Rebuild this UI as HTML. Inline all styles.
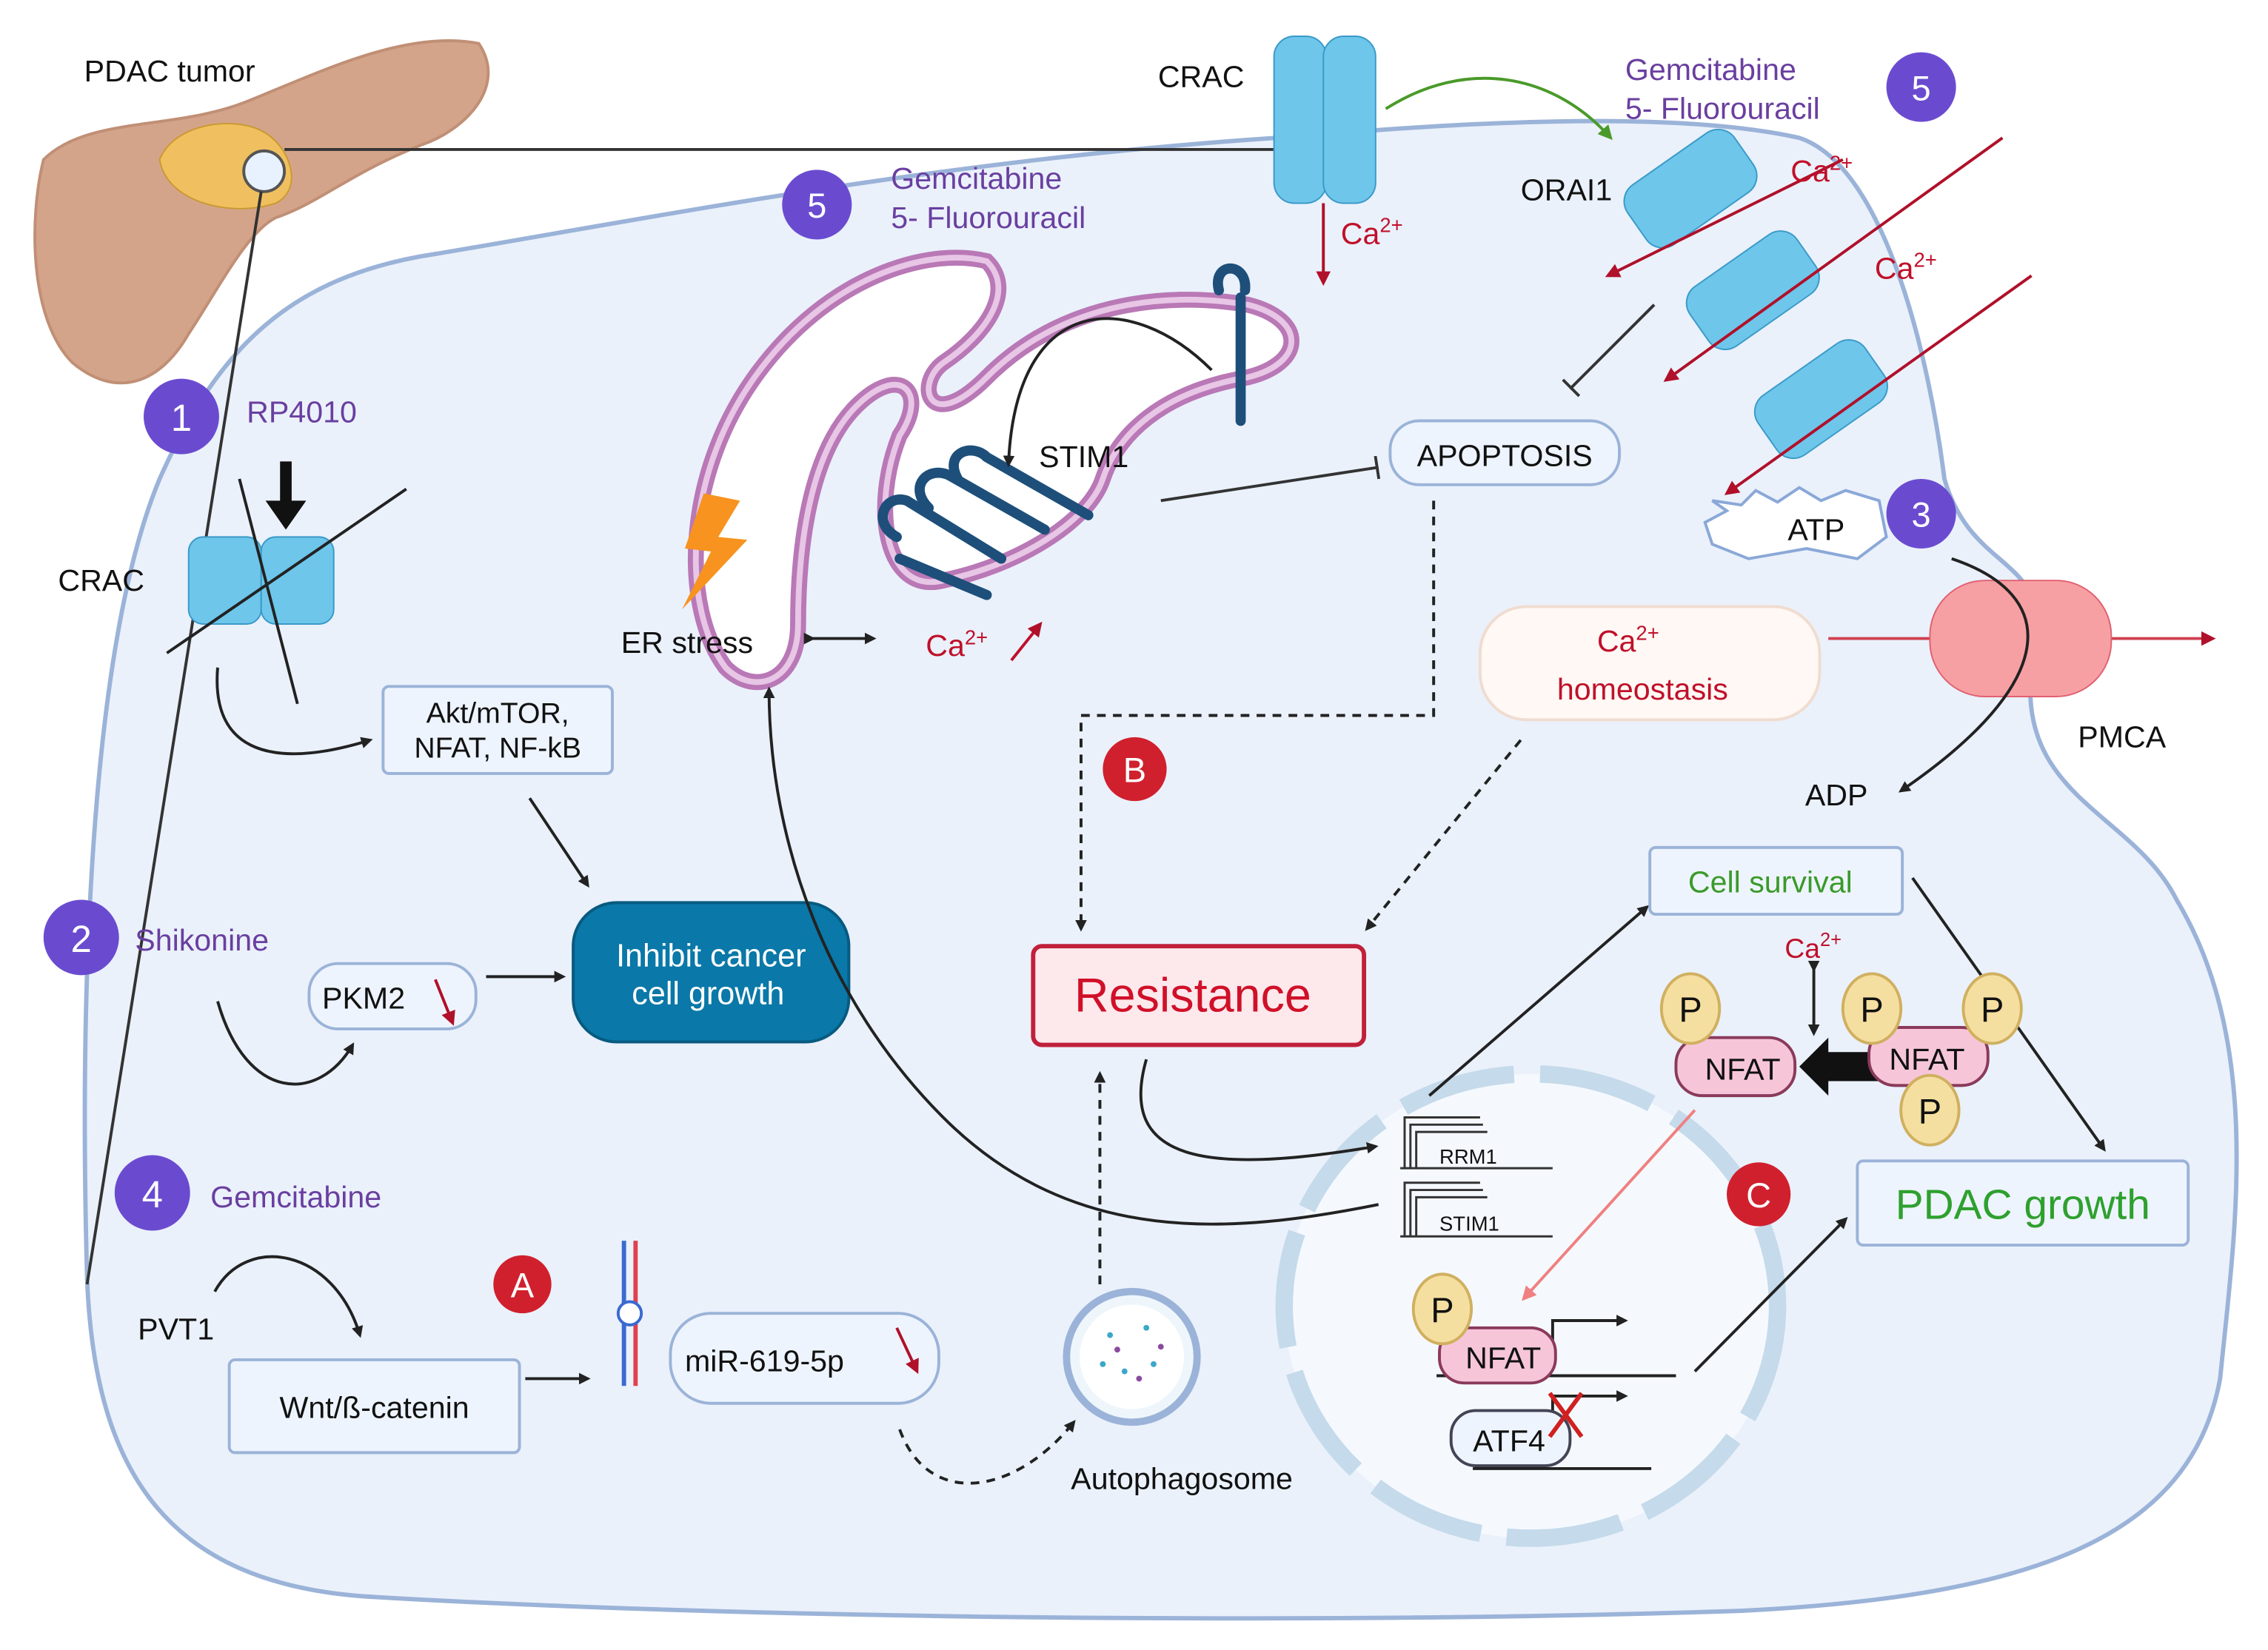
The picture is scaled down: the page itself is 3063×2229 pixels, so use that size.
<!DOCTYPE html>
<html><head><meta charset="utf-8"><style>
html,body{margin:0;padding:0;background:#fff}
svg{display:block}
text{font-family:"Liberation Sans",sans-serif}
</style></head><body>
<svg width="3063" height="2229" viewBox="0 0 1563 1137" preserveAspectRatio="none" xmlns="http://www.w3.org/2000/svg">
<defs>
<marker id="ab" markerWidth="8" markerHeight="8" refX="6" refY="4" orient="auto" markerUnits="userSpaceOnUse"><path d="M0,0 L8,4 L0,8 Z" fill="#222"/></marker>
<marker id="ar" markerWidth="10" markerHeight="10" refX="8" refY="5" orient="auto" markerUnits="userSpaceOnUse"><path d="M0,0 L10,5 L0,10 Z" fill="#b0102a"/></marker>
<marker id="ag" markerWidth="10" markerHeight="10" refX="8" refY="5" orient="auto" markerUnits="userSpaceOnUse"><path d="M0,0 L10,5 L0,10 Z" fill="#4a9a2a"/></marker>
<marker id="ap" markerWidth="10" markerHeight="10" refX="8" refY="5" orient="auto" markerUnits="userSpaceOnUse"><path d="M0,0 L10,5 L0,10 Z" fill="#f08080"/></marker>
<marker id="tb" markerWidth="4" markerHeight="16" refX="2" refY="8" orient="auto" markerUnits="userSpaceOnUse"><rect x="0" y="0" width="2" height="16" fill="#333"/></marker>
</defs>
<rect width="1563" height="1137" fill="#fff"/>
<!-- cell -->
<path d="M60,880 C55,700 60,450 110,330 C150,240 200,190 300,175 C450,150 650,110 880,95 C1000,85 1150,75 1240,95 C1300,115 1330,250 1340,330 C1360,400 1420,380 1400,460 C1390,550 1470,560 1500,620 C1560,720 1540,850 1530,950 C1510,1060 1400,1100 1200,1110 C900,1120 500,1115 250,1100 C120,1090 65,1020 60,880 Z" fill="#eaf1fb" stroke="#9bb3d8" stroke-width="3"/>
<!-- pancreas -->
<path d="M30,110 C60,80 120,90 170,70 C220,50 280,20 330,30 C350,60 320,90 290,100 C240,120 220,140 190,150 C170,160 150,200 130,230 C110,265 80,275 50,250 C20,220 20,150 30,110 Z" fill="#d4a48a" stroke="#c08f75" stroke-width="2"/>
<path d="M110,110 C120,85 160,80 180,90 C200,100 210,130 190,140 C160,150 115,140 110,110 Z" fill="#f0c060" stroke="#c99a30"/>
<circle cx="182" cy="118" r="14" fill="#e8f2ff" stroke="#555" stroke-width="2"/>
<line x1="196" y1="103" x2="880" y2="103" stroke="#333" stroke-width="2"/>
<line x1="180" y1="132" x2="60" y2="885" stroke="#333" stroke-width="2"/>
<text x="58" y="56" font-size="21" fill="#111">PDAC tumor</text>
<!-- ER -->
<path d="M500,460 C470,420 470,330 520,260 C570,190 640,170 680,180 C700,200 680,230 650,250 C630,265 640,300 680,260 C730,210 800,200 860,210 C900,220 900,250 860,260 C800,270 770,300 760,330 C750,360 700,390 650,400 C610,410 600,350 620,300 C640,270 620,250 590,280 C560,310 550,370 550,430 C550,470 520,480 500,460 Z" fill="#fff" stroke="#b978b6" stroke-width="11"/>
<path d="M500,460 C470,420 470,330 520,260 C570,190 640,170 680,180 C700,200 680,230 650,250 C630,265 640,300 680,260 C730,210 800,200 860,210 C900,220 900,250 860,260 C800,270 770,300 760,330 C750,360 700,390 650,400 C610,410 600,350 620,300 C640,270 620,250 590,280 C560,310 550,370 550,430 C550,470 520,480 500,460 Z" fill="none" stroke="#e8c6e6" stroke-width="4"/>
<!-- STIM1 shapes -->
<g stroke="#1d4f7a" stroke-width="7" fill="none" stroke-linecap="round">
<path d="M840,200 C835,180 860,180 858,200"/><line x1="855" y1="205" x2="855" y2="290"/>
<path d="M618,370 C600,360 610,340 625,345 L690,385"/>
<path d="M640,350 C625,335 640,320 655,328 L720,365"/>
<path d="M660,330 C650,312 670,305 680,315 L750,355"/>
<path d="M620,385 L680,410"/>
</g>
<path d="M835,255 C780,200 700,200 695,320" fill="none" stroke="#222" stroke-width="2" marker-end="url(#ab)"/>
<text x="716" y="322" font-size="21" fill="#111">STIM1</text>
<polygon points="485,340 510,345 495,370 515,372 470,420 490,380 472,378" fill="#f7931e"/>
<text x="428" y="450" font-size="21" fill="#111">ER stress</text>
<line x1="560" y1="440" x2="602" y2="440" stroke="#222" stroke-width="2" marker-end="url(#ab)" marker-start="url(#ab)"/>
<text x="638" y="452" font-size="21" fill="#c0102a">Ca<tspan font-size="14" dy="-8">2+</tspan></text>
<line x1="697" y1="455" x2="717" y2="430" stroke="#c0102a" stroke-width="2" marker-end="url(#ar)"/>
<line x1="800" y1="345" x2="950" y2="322" stroke="#333" stroke-width="2" marker-end="url(#tb)"/>
<!-- CRAC top -->
<rect x="878" y="25" width="36" height="115" rx="14" fill="#6ec6ea" stroke="#3a9ac8"/>
<rect x="912" y="25" width="36" height="115" rx="14" fill="#6ec6ea" stroke="#3a9ac8"/>
<text x="798" y="60" font-size="21" fill="#111">CRAC</text>
<line x1="912" y1="140" x2="912" y2="195" stroke="#b0102a" stroke-width="2" marker-end="url(#ar)"/>
<text x="924" y="168" font-size="21" fill="#c0102a">Ca<tspan font-size="14" dy="-8">2+</tspan></text>
<path d="M955,75 C1010,40 1070,50 1110,95" fill="none" stroke="#4a9a2a" stroke-width="2" marker-end="url(#ag)"/>
<text x="614" y="130" font-size="21" fill="#6a3fa0">Gemcitabine</text>
<text x="614" y="157" font-size="21" fill="#6a3fa0">5- Fluorouracil</text>
<circle cx="563" cy="141" r="24" fill="#6a4bd0"/><text x="563" y="150" font-size="24" fill="#fff" text-anchor="middle">5</text>
<text x="1120" y="55" font-size="21" fill="#6a3fa0">Gemcitabine</text>
<text x="1120" y="82" font-size="21" fill="#6a3fa0">5- Fluorouracil</text>
<circle cx="1324" cy="60" r="24" fill="#6a4bd0"/><text x="1324" y="69" font-size="24" fill="#fff" text-anchor="middle">5</text>
<!-- ORAI1 -->
<g fill="#6ec6ea" stroke="#3a9ac8">
<rect x="1120" y="105" width="90" height="50" rx="14" transform="rotate(-35 1165 130)"/>
<rect x="1163" y="175" width="90" height="50" rx="14" transform="rotate(-35 1208 200)"/>
<rect x="1210" y="250" width="90" height="50" rx="14" transform="rotate(-35 1255 275)"/>
</g>
<text x="1048" y="138" font-size="21" fill="#111">ORAI1</text>
<g stroke="#b0102a" stroke-width="2">
<line x1="1270" y1="110" x2="1108" y2="190" marker-end="url(#ar)"/>
<line x1="1380" y1="95" x2="1148" y2="262" marker-end="url(#ar)"/>
<line x1="1400" y1="190" x2="1190" y2="340" marker-end="url(#ar)"/>
</g>
<text x="1234" y="125" font-size="21" fill="#c0102a">Ca<tspan font-size="14" dy="-8">2+</tspan></text>
<text x="1292" y="192" font-size="21" fill="#c0102a">Ca<tspan font-size="14" dy="-8">2+</tspan></text>
<line x1="1140" y1="210" x2="1082" y2="268" stroke="#333" stroke-width="2" marker-end="url(#tb)"/>
<rect x="958" y="290" width="158" height="44" rx="20" fill="#eef4fd" stroke="#9bb3d8" stroke-width="2"/>
<text x="1037" y="321" font-size="21" fill="#111" text-anchor="middle">APOPTOSIS</text>
<polygon points="1175,360 1190,352 1180,345 1200,348 1210,338 1225,346 1240,336 1255,345 1272,338 1295,345 1300,370 1280,385 1245,378 1205,385 1180,375" fill="#fff" stroke="#8aa8d8" stroke-width="2"/>
<text x="1232" y="372" font-size="21" fill="#111">ATP</text>
<circle cx="1324" cy="354" r="24" fill="#6a4bd0"/><text x="1324" y="363" font-size="24" fill="#fff" text-anchor="middle">3</text>
<!-- PMCA -->
<line x1="1260" y1="440" x2="1525" y2="440" stroke="#d04050" stroke-width="2" marker-end="url(#ar)"/>
<rect x="1330" y="400" width="125" height="80" rx="38" fill="#f7a0a4" stroke="#e06070"/>
<path d="M1345,385 C1420,410 1420,470 1310,545" fill="none" stroke="#222" stroke-width="2" marker-end="url(#ab)"/>
<text x="1432" y="515" font-size="21" fill="#111">PMCA</text>
<text x="1244" y="555" font-size="21" fill="#111">ADP</text>
<rect x="1020" y="418" width="234" height="78" rx="32" fill="#fff8f4" stroke="#f0dcd0" stroke-width="2"/>
<text x="1122" y="449" font-size="21" fill="#c0102a" text-anchor="middle">Ca<tspan font-size="14" dy="-8">2+</tspan></text>
<text x="1132" y="482" font-size="21" fill="#c0102a" text-anchor="middle">homeostasis</text>
<!-- left drugs -->
<circle cx="125" cy="287" r="26" fill="#6a4bd0"/><text x="125" y="297" font-size="26" fill="#fff" text-anchor="middle">1</text>
<text x="170" y="291" font-size="21" fill="#6a3fa0">RP4010</text>
<line x1="197" y1="318" x2="197" y2="352" stroke="#111" stroke-width="8"/><polygon points="183,345 211,345 197,365" fill="#111"/>
<rect x="130" y="370" width="50" height="60" rx="10" fill="#6ec6ea" stroke="#3a9ac8"/>
<rect x="180" y="370" width="50" height="60" rx="10" fill="#6ec6ea" stroke="#3a9ac8"/>
<line x1="115" y1="450" x2="280" y2="337" stroke="#222" stroke-width="2"/>
<line x1="165" y1="330" x2="205" y2="485" stroke="#222" stroke-width="2"/>
<text x="40" y="407" font-size="21" fill="#111">CRAC</text>
<path d="M150,460 C145,520 190,530 255,510" fill="none" stroke="#222" stroke-width="2" marker-end="url(#ab)"/>
<rect x="264" y="473" width="158" height="60" rx="4" fill="#eef4fd" stroke="#9bb3d8" stroke-width="2"/>
<text x="343" y="498" font-size="20" fill="#111" text-anchor="middle">Akt/mTOR,</text>
<text x="343" y="522" font-size="20" fill="#111" text-anchor="middle">NFAT, NF-kB</text>
<line x1="365" y1="550" x2="405" y2="610" stroke="#222" stroke-width="2" marker-end="url(#ab)"/>
<rect x="395" y="622" width="190" height="96" rx="30" fill="#0a78a8" stroke="#085a80" stroke-width="2"/>
<text x="490" y="666" font-size="22" fill="#fff" text-anchor="middle">Inhibit cancer</text>
<text x="488" y="692" font-size="22" fill="#fff" text-anchor="middle">cell growth</text>
<circle cx="56" cy="646" r="26" fill="#6a4bd0"/><text x="56" y="656" font-size="26" fill="#fff" text-anchor="middle">2</text>
<text x="93" y="655" font-size="21" fill="#6a3fa0">Shikonine</text>
<rect x="213" y="664" width="115" height="45" rx="20" fill="#eef4fd" stroke="#9bb3d8" stroke-width="2"/>
<text x="222" y="695" font-size="21" fill="#111">PKM2</text>
<line x1="300" y1="675" x2="312" y2="705" stroke="#b0102a" stroke-width="2" marker-end="url(#ar)"/>
<line x1="335" y1="673" x2="388" y2="673" stroke="#222" stroke-width="2" marker-end="url(#ab)"/>
<path d="M150,690 C170,760 220,760 243,720" fill="none" stroke="#222" stroke-width="2" marker-end="url(#ab)"/>
<circle cx="105" cy="822" r="26" fill="#6a4bd0"/><text x="105" y="832" font-size="26" fill="#fff" text-anchor="middle">4</text>
<text x="145" y="832" font-size="21" fill="#6a3fa0">Gemcitabine</text>
<text x="95" y="923" font-size="21" fill="#111">PVT1</text>
<path d="M148,890 C170,850 230,860 248,920" fill="none" stroke="#222" stroke-width="2" marker-end="url(#ab)"/>
<rect x="158" y="937" width="200" height="64" rx="4" fill="#eef4fd" stroke="#9bb3d8" stroke-width="2"/>
<text x="258" y="977" font-size="21" fill="#111" text-anchor="middle">Wnt/ß-catenin</text>
<line x1="362" y1="950" x2="405" y2="950" stroke="#222" stroke-width="2" marker-end="url(#ab)"/>
<circle cx="360" cy="885" r="20" fill="#d0202e"/><text x="360" y="894" font-size="24" fill="#fff" text-anchor="middle">A</text>
<line x1="430" y1="855" x2="430" y2="955" stroke="#3a6ad0" stroke-width="3"/>
<line x1="438" y1="855" x2="438" y2="955" stroke="#e04050" stroke-width="3"/>
<circle cx="434" cy="905" r="8" fill="#fff" stroke="#3a6ad0" stroke-width="2"/>
<rect x="462" y="905" width="185" height="62" rx="28" fill="#eef4fd" stroke="#9bb3d8" stroke-width="2"/>
<text x="472" y="945" font-size="21" fill="#111">miR-619-5p</text>
<line x1="618" y1="915" x2="632" y2="945" stroke="#b0102a" stroke-width="2" marker-end="url(#ar)"/>
<path d="M620,985 C640,1040 700,1030 740,980" fill="none" stroke="#222" stroke-width="2" stroke-dasharray="6,5" marker-end="url(#ab)"/>
<circle cx="780" cy="935" r="45" fill="#eef6fc" stroke="#9bb3d8" stroke-width="5"/>
<circle cx="780" cy="935" r="36" fill="#fff"/>
<g fill="#3aa8c8"><circle cx="765" cy="920" r="2"/><circle cx="790" cy="915" r="2"/><circle cx="775" cy="945" r="2"/><circle cx="795" cy="940" r="2"/><circle cx="760" cy="940" r="2"/></g>
<g fill="#8a4aa0"><circle cx="770" cy="930" r="2"/><circle cx="785" cy="950" r="2"/><circle cx="800" cy="928" r="2"/></g>
<text x="738" y="1026" font-size="21" fill="#111">Autophagosome</text>
<line x1="758" y1="885" x2="758" y2="740" stroke="#222" stroke-width="2" stroke-dasharray="6,5" marker-end="url(#ab)"/>
<!-- resistance -->
<path d="M988,345 L988,493 L745,493 L745,640" fill="none" stroke="#222" stroke-width="2" stroke-dasharray="6,5" marker-end="url(#ab)"/>
<line x1="1048" y1="510" x2="942" y2="640" stroke="#222" stroke-width="2" stroke-dasharray="6,5" marker-end="url(#ab)"/>
<circle cx="782" cy="530" r="22" fill="#d0202e"/><text x="782" y="539" font-size="24" fill="#fff" text-anchor="middle">B</text>
<rect x="712" y="652" width="228" height="68" rx="6" fill="#fde8ec" stroke="#c0203a" stroke-width="3"/>
<text x="822" y="697" font-size="33" fill="#d01028" text-anchor="middle">Resistance</text>
<!-- nucleus -->
<ellipse cx="1055" cy="900" rx="170" ry="160" fill="#f5f9fe" stroke="#c5daea" stroke-width="12" stroke-dasharray="80,18"/>
<path d="M790,730 C770,800 830,810 948,790" fill="none" stroke="#222" stroke-width="2" marker-end="url(#ab)"/>
<path d="M950,830 C850,850 740,860 650,770 C570,690 530,580 530,475" fill="none" stroke="#222" stroke-width="2" marker-end="url(#ab)"/>
<g stroke="#333" stroke-width="1.5" fill="none">
<line x1="965" y1="805" x2="1070" y2="805"/><path d="M968,805 V770 H1020 M972,805 V775 H1022 M976,805 V780 H1025"/>
<line x1="965" y1="852" x2="1070" y2="852"/><path d="M968,852 V815 H1020 M972,852 V820 H1022 M976,852 V825 H1025"/>
</g>
<text x="992" y="802" font-size="14" fill="#111">RRM1</text>
<text x="992" y="848" font-size="14" fill="#111">STIM1</text>
<line x1="985" y1="755" x2="1135" y2="625" stroke="#222" stroke-width="2" marker-end="url(#ab)"/>
<rect x="1137" y="584" width="174" height="46" rx="4" fill="#eef4fd" stroke="#9bb3d8" stroke-width="2"/>
<text x="1220" y="615" font-size="21" fill="#3a9a2a" text-anchor="middle">Cell survival</text>
<line x1="1318" y1="605" x2="1450" y2="792" stroke="#222" stroke-width="2" marker-end="url(#ab)"/>
<rect x="1280" y="800" width="228" height="58" rx="4" fill="#eef4fd" stroke="#9bb3d8" stroke-width="2"/>
<text x="1394" y="840" font-size="29" fill="#2ea02e" text-anchor="middle">PDAC growth</text>
<text x="1230" y="660" font-size="19" fill="#c0102a">Ca<tspan font-size="13" dy="-8">2+</tspan></text>
<line x1="1250" y1="668" x2="1250" y2="712" stroke="#222" stroke-width="2" marker-end="url(#ab)" marker-start="url(#ab)"/>
<rect x="1155" y="715" width="82" height="40" rx="18" fill="#f6c6d8" stroke="#8a3a5a" stroke-width="2"/>
<text x="1201" y="744" font-size="21" fill="#111" text-anchor="middle">NFAT</text>
<ellipse cx="1165" cy="695" rx="20" ry="24" fill="#f5dfa0" stroke="#d0b060" stroke-width="2"/><text x="1165" y="704" font-size="24" fill="#111" text-anchor="middle">P</text>
<polygon points="1295,725 1260,725 1260,715 1240,735 1260,755 1260,745 1295,745" fill="#111"/>
<rect x="1288" y="708" width="82" height="40" rx="18" fill="#f6c6d8" stroke="#8a3a5a" stroke-width="2"/>
<text x="1328" y="737" font-size="21" fill="#111" text-anchor="middle">NFAT</text>
<ellipse cx="1290" cy="695" rx="20" ry="24" fill="#f5dfa0" stroke="#d0b060" stroke-width="2"/><text x="1290" y="704" font-size="24" fill="#111" text-anchor="middle">P</text>
<ellipse cx="1373" cy="695" rx="20" ry="24" fill="#f5dfa0" stroke="#d0b060" stroke-width="2"/><text x="1373" y="704" font-size="24" fill="#111" text-anchor="middle">P</text>
<ellipse cx="1330" cy="765" rx="20" ry="24" fill="#f5dfa0" stroke="#d0b060" stroke-width="2"/><text x="1330" y="774" font-size="24" fill="#111" text-anchor="middle">P</text>
<circle cx="1212" cy="823" r="22" fill="#d0202e"/><text x="1212" y="832" font-size="24" fill="#fff" text-anchor="middle">C</text>
<line x1="1168" y1="765" x2="1050" y2="895" stroke="#f08080" stroke-width="2" marker-end="url(#ap)"/>
<g stroke="#222" stroke-width="2" fill="none">
<line x1="990" y1="948" x2="1155" y2="948"/><path d="M1070,935 V910 H1120" marker-end="url(#ab)"/>
<line x1="1015" y1="1012" x2="1138" y2="1012"/><path d="M1070,985 V962 H1120" marker-end="url(#ab)"/>
</g>
<rect x="992" y="915" width="80" height="38" rx="17" fill="#f6c6d8" stroke="#8a3a5a" stroke-width="2"/>
<text x="1036" y="943" font-size="21" fill="#111" text-anchor="middle">NFAT</text>
<ellipse cx="994" cy="902" rx="20" ry="24" fill="#f5dfa0" stroke="#d0b060" stroke-width="2"/><text x="994" y="911" font-size="24" fill="#111" text-anchor="middle">P</text>
<rect x="1000" y="972" width="82" height="38" rx="17" fill="#eef4fd" stroke="#445" stroke-width="2"/>
<text x="1040" y="1000" font-size="21" fill="#111" text-anchor="middle">ATF4</text>
<path d="M1068,960 L1090,990 M1090,960 L1068,990" stroke="#d02020" stroke-width="3"/>
<line x1="1168" y1="945" x2="1272" y2="840" stroke="#222" stroke-width="2" marker-end="url(#ab)"/>
</svg>
</body></html>
